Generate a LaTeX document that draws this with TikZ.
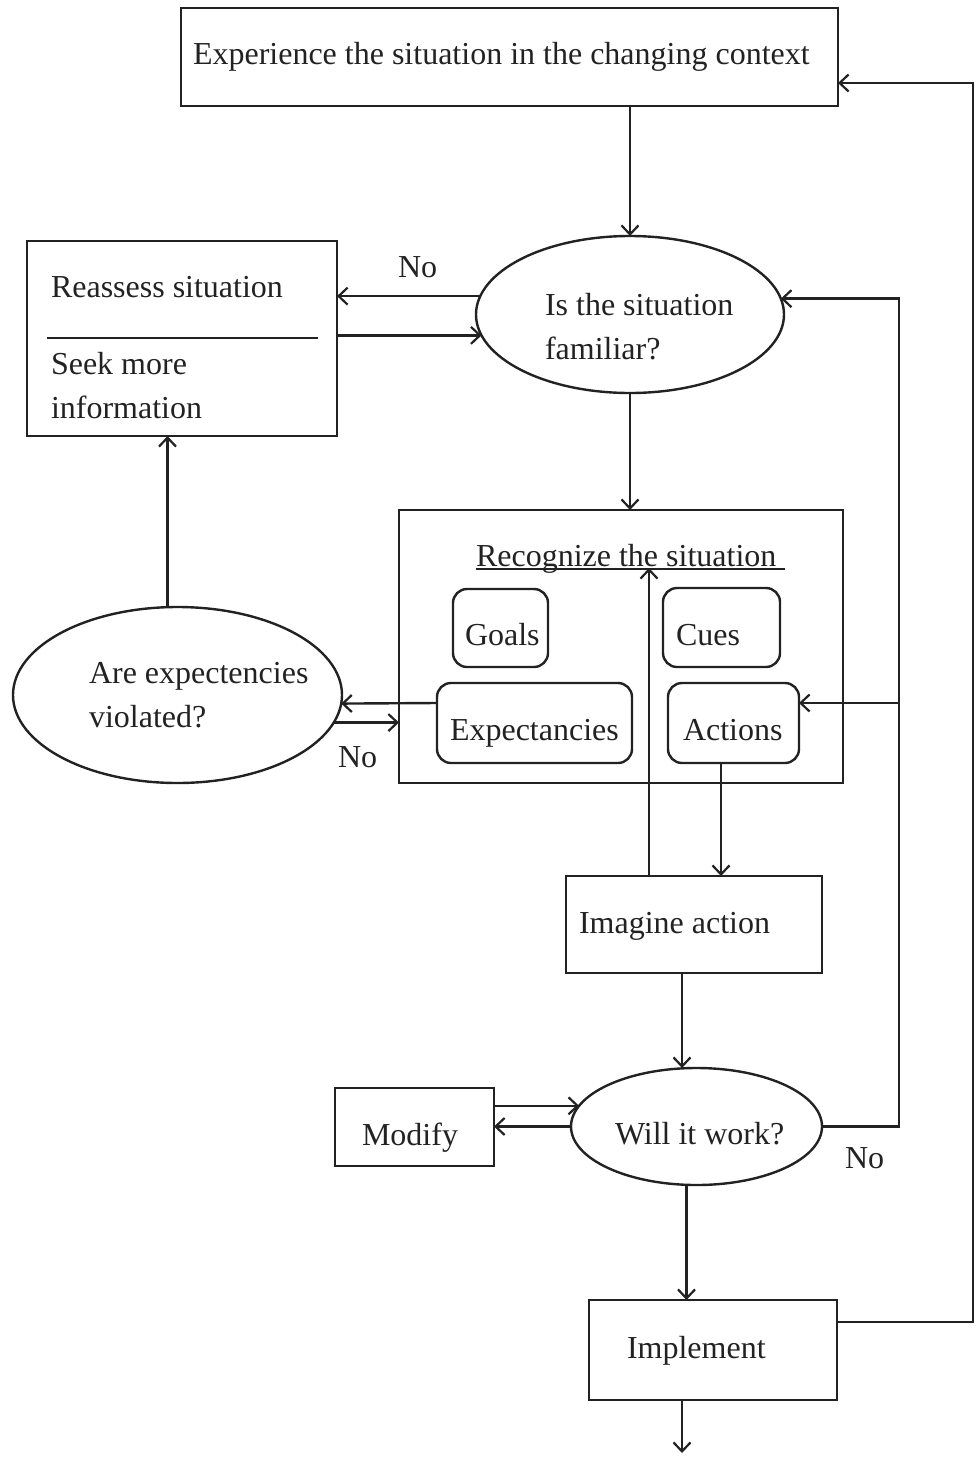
\documentclass[tikz,border=0pt]{standalone}
\usepackage{fontspec}
\setmainfont{Liberation Serif}
\usetikzlibrary{arrows.meta,shapes.geometric,calc}
\definecolor{ink}{HTML}{222222}
\tikzset{
  lw/.style={line width=2.4pt, draw=ink},
  boxn/.style={lw, rectangle, inner sep=0pt, outer sep=0pt},
  rbox/.style={boxn, rounded corners=14pt},
  ell/.style={lw, ellipse, inner sep=0pt, outer sep=0pt},
  txt/.style={anchor=base west, inner sep=0pt, outer sep=0pt, text=ink, font=\fontsize{32}{44}\selectfont},
  arr/.style={lw, -{Straight Barb[length=9pt,width=17pt,line width=2.2pt]}},
  conn/.style={lw}
}
\begin{document}
\begin{tikzpicture}[x=1pt,y=-1pt]
\useasboundingbox (0,0) rectangle (976,1457);
% shapes
\node[boxn, minimum width=657pt, minimum height=98pt] (top) at (509.5,57) {};
\node[boxn, minimum width=310pt, minimum height=195pt] (reass) at (182,338.5) {};
\node[ell, minimum width=308pt, minimum height=157pt] (fam) at (630,314.5) {};
\node[boxn, minimum width=444pt, minimum height=273pt] (recog) at (621,646.5) {};
\node[rbox, minimum width=95pt, minimum height=78pt] (goals) at (500.5,628) {};
\node[rbox, minimum width=117pt, minimum height=79pt] (cues) at (721.5,627.5) {};
\node[rbox, minimum width=195pt, minimum height=80pt] (exp) at (534.5,723) {};
\node[rbox, minimum width=131pt, minimum height=80pt] (act) at (733.5,723) {};
\node[ell, minimum width=329pt, minimum height=176pt] (viol) at (177.5,695) {};
\node[boxn, minimum width=256pt, minimum height=97pt] (imag) at (694,924.5) {};
\node[ell, minimum width=251pt, minimum height=117pt] (will) at (696.5,1126.5) {};
\node[boxn, minimum width=159pt, minimum height=78pt] (modify) at (414.5,1127) {};
\node[boxn, minimum width=248pt, minimum height=100pt] (impl) at (713,1350) {};
% texts
\node[txt] (t-top) at (193,64) {Experience the situation in the changing context};
\node[txt] (t-fam1) at (545,315) {Is the situation};
\node[txt] (t-fam2) at (545,359) {familiar?};
\node[txt] (t-reass) at (51,297) {Reassess situation};
\node[txt] (t-seek) at (51,374) {Seek more};
\node[txt] (t-info) at (51,418) {information};
\node[txt] (t-recog) at (476,566) {Recognize the situation};
\node[txt] (t-goals) at (465,645) {Goals};
\node[txt] (t-cues) at (676,645) {Cues};
\node[txt] (t-exp) at (450,740) {Expectancies};
\node[txt] (t-act) at (683,740) {Actions};
\node[txt] (t-viol1) at (89,683) {Are expectencies};
\node[txt] (t-viol2) at (89,727) {violated?};
\node[txt] (t-imag) at (579,933) {Imagine action};
\node[txt] (t-will) at (615,1144) {Will it work?};
\node[txt] (t-modify) at (362,1145) {Modify};
\node[txt] (t-impl) at (627,1358) {Implement};
\node[txt] (no1) at (398,277) {No};
\node[txt] (no2) at (338,767) {No};
\node[txt] (no3) at (845,1168) {No};
% decorations inside nodes
\draw[conn] ($(reass.north west)+(20,97)$) -- ($(reass.north east)+(-19,97)$);
\draw[conn] ([yshift=-3pt]t-recog.base west) -- ([yshift=-3pt,xshift=9pt]t-recog.base east);
% helper coordinates
\coordinate (r1) at (899,703);
\coordinate (r2) at (973,83);
\coordinate (out) at (682,1453);
% connectors
\draw[arr] (top.south -| fam.north) -- (fam.north);
\draw[arr] (fam.173.55) -- (fam.173.55 -| reass.east);
\draw[arr] (fam.188.47 -| reass.east) -- (fam.188.47);
\draw[arr] (fam.south) -- (fam.south |- recog.north);
\draw[arr] ([xshift=-10pt]viol.north) -- ([xshift=-10pt]viol.north |- reass.south);
\draw[arr] ([yshift=20pt]exp.west) -- (viol.357.2);
\draw[arr] (viol.350.2) -- (viol.350.2 -| recog.west);
\draw[arr] ([xshift=-12.5pt]act.south) -- ([xshift=-12.5pt]act.south |- imag.north);
\draw[arr] ([xshift=-45pt]imag.north) -- ([xshift=-45pt,yshift=-2pt]imag.north |- t-recog.base);
\draw[arr] ([xshift=-12pt]imag.south) -- ([xshift=-12pt]imag.south |- will.north);
\draw[arr] (will.170.1 -| modify.east) -- (will.170.1);
\draw[arr] (will.west) -- (will.west -| modify.east);
\draw[arr] (will.east) -| (r1) |- (fam.6.45);
\draw[arr] (r1) -- (r1 -| act.east);
\draw[arr] ([xshift=-10pt]will.south) -- ([xshift=-10pt]will.south |- impl.north);
\draw[arr] ([yshift=28pt]impl.east) -| (r2) -- (r2 -| top.east);
\draw[arr] (impl.south -| out) -- (out);
\end{tikzpicture}
\end{document}
